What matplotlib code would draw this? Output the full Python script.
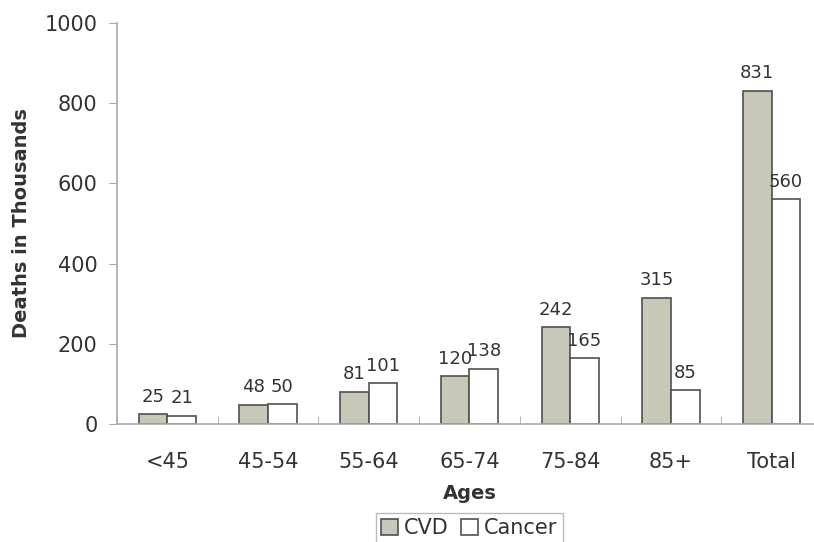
import matplotlib
matplotlib.use("Agg")
import matplotlib.pyplot as plt
import numpy as np

categories = ["<45", "45-54", "55-64", "65-74", "75-84", "85+", "Total"]
cvd = [25, 48, 81, 120, 242, 315, 831]
cancer = [21, 50, 101, 138, 165, 85, 560]
yticks = [0, 200, 400, 600, 800, 1000]

plt.rcParams['font.family'] = ['DejaVu Sans']
txt = '#333333'

fig = plt.figure(figsize=(8.14, 5.42), dpi=100)
W, H = 814, 542
left, right, top, bottom = 117, 822, 23, 424
ax = fig.add_axes([left / W, 1 - bottom / H, (right - left) / W, (bottom - top) / H])

x = np.arange(len(categories))
w = 0.285
b1 = ax.bar(x - w / 2, cvd, w, color='#c9c7b8', edgecolor='#505050', linewidth=1.2, label='CVD')
b2 = ax.bar(x + w / 2, cancer, w, color='white', edgecolor='#505050', linewidth=1.2, label='Cancer')

for rects, vals in ((b1, cvd), (b2, cancer)):
    for r, v in zip(rects, vals):
        ax.annotate(str(v), (r.get_x() + r.get_width() / 2, v), xytext=(0, 6),
                    textcoords='offset points', ha='center', va='bottom',
                    fontsize=13, color=txt)

ax.set_xlim(-0.5, len(categories) - 0.5)
ax.set_ylim(0, 1000)
ax.set_yticks(yticks)
ax.set_yticklabels([str(t) for t in yticks], fontsize=15, color=txt)
ax.set_xticks(x)
ax.set_xticklabels(categories, fontsize=15, color=txt)
ax.set_xticks(np.arange(-0.5, len(categories), 1), minor=True)
ax.tick_params(axis='x', which='major', length=0, pad=20)
ax.tick_params(axis='x', which='minor', length=6, color='#aaaaaa', direction='in')
ax.tick_params(axis='y', length=6, color='#aaaaaa', pad=8)
for s in ('top', 'right'):
    ax.spines[s].set_visible(False)
for s in ('left', 'bottom'):
    ax.spines[s].set_color('#aaaaaa')
    ax.spines[s].set_linewidth(1.2)

ax.set_xlabel('Ages', fontsize=14, fontweight='bold', color=txt, labelpad=9)
ax.set_ylabel('Deaths in Thousands', fontsize=14, fontweight='bold', color=txt, labelpad=10)

leg = ax.legend(loc='upper center', bbox_to_anchor=(0.5, -0.222), ncol=2, fontsize=15,
                frameon=True, fancybox=False, edgecolor='#aaaaaa', handlelength=0.8,
                handleheight=0.8, handletextpad=0.3, columnspacing=0.6, borderpad=0.25,
                borderaxespad=0, labelcolor=txt)
leg.get_frame().set_linewidth(1.0)

fig.savefig('out.png', dpi=100)
